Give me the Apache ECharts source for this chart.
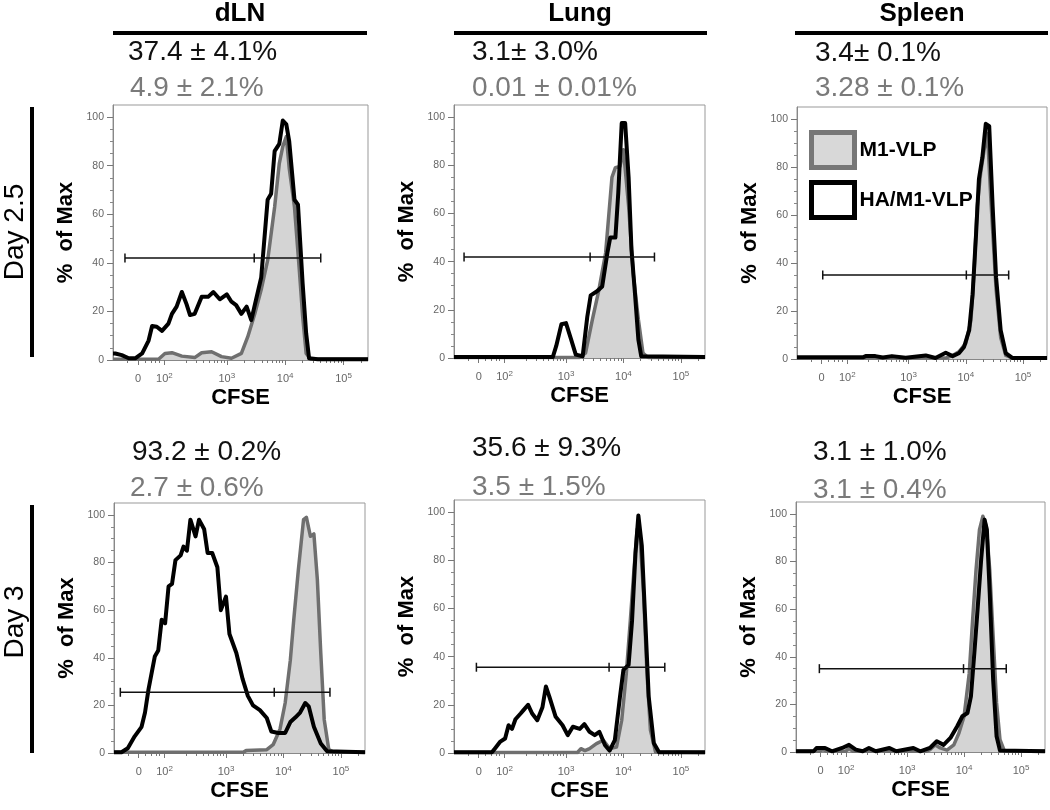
<!DOCTYPE html>
<html>
<head>
<meta charset="utf-8">
<script src="https://cdn.jsdelivr.net/npm/echarts@6/dist/echarts.min.js"></script>
<style>html,body{margin:0;padding:0;background:#fff}#c{width:1050px;height:810px}</style>
</head>
<body>
<div id="c"></div>
<script>
// ---- Data (x = CFSE on the biexponential display scale, in decades; y = % of Max) ----
const xTickPos = [1.48, 1.93, 3, 4, 5];
const xTickLabels = ['0', '10|2', '10|3', '10|4', '10|5'];
const yTickVals = [0, 20, 40, 60, 80, 100];
const columnTitles = ['dLN', 'Lung', 'Spleen'];
const rowTitles = ['Day 2.5', 'Day 3'];
const pctHA = ['37.4 \u00b1 4.1%', '3.1\u00b1 3.0%', '3.4\u00b1 0.1%', '93.2 \u00b1 0.2%', '35.6 \u00b1 9.3%', '3.1 \u00b1 1.0%'];
const pctM1 = ['4.9 \u00b1 2.1%', '0.01 \u00b1 0.01%', '3.28 \u00b1 0.1%', '2.7 \u00b1 0.6%', '3.5 \u00b1 1.5%', '3.1 \u00b1 0.4%'];

const dLN_d25_HA = [[1.05,2.7],[1.09,2.7],[1.20,2],[1.32,0.7],[1.43,0.7],[1.55,2.7],[1.66,8],[1.72,14],[1.80,13.7],[1.89,12],[2.0,15],[2.06,19],[2.14,22],[2.23,28],[2.31,23],[2.37,18.5],[2.45,19],[2.57,26],[2.68,26],[2.77,28],[2.88,25],[3.0,27],[3.08,24],[3.16,22.6],[3.25,19],[3.34,22],[3.42,16.4],[3.5,24.7],[3.59,34],[3.70,66],[3.76,68.5],[3.82,86],[3.90,89],[3.96,98.6],[4.02,97],[4.07,90],[4.16,66],[4.22,64],[4.30,31.5],[4.36,11],[4.41,0.7],[4.56,0.3],[5.42,0.3]];
const dLN_d25_M1 = [[1.05,0.3],[1.83,0.3],[1.94,2.7],[2.06,3],[2.23,1.6],[2.45,1],[2.57,3],[2.74,3.4],[2.91,1.4],[3.08,0.7],[3.25,2.7],[3.36,9.6],[3.48,19],[3.59,29],[3.70,41],[3.82,63],[3.90,81],[3.96,88],[4.02,92],[4.07,79],[4.16,63],[4.24,38],[4.30,18],[4.36,2.7],[4.44,0.3],[5.42,0.3]];
const lung_d25_HA = [[1.05,0.4],[2.77,0.4],[2.83,5],[2.92,14],[3.0,14.5],[3.09,7.6],[3.17,1.4],[3.29,0.7],[3.37,17],[3.43,26],[3.54,27.7],[3.63,29.7],[3.72,43.6],[3.77,50],[3.86,50],[3.91,68.5],[3.97,97.5],[4.03,97.5],[4.09,75],[4.14,45],[4.20,27],[4.26,7.6],[4.31,0.7],[5.42,0.4]];
const lung_d25_M1 = [[1.05,0.2],[3.23,0.2],[3.34,2],[3.46,16],[3.57,28],[3.69,43.6],[3.80,75],[3.86,79],[3.94,79.5],[4.0,86.4],[4.09,63],[4.17,35],[4.26,16],[4.34,2],[4.43,0.2],[5.42,0.2]];
const spl_d25_HA = [[1.05,0.7],[2.20,0.7],[2.25,1.2],[2.42,1.2],[2.55,0.6],[2.71,1.2],[2.95,0.5],[3.30,1.5],[3.47,0.4],[3.65,2.6],[3.77,1.2],[3.88,2.4],[3.97,5],[4.06,12],[4.12,27],[4.18,52],[4.23,75],[4.29,84],[4.35,98],[4.41,97],[4.47,63.5],[4.53,34],[4.61,12],[4.70,2.4],[4.82,0.4],[5.42,0.4]];
const spl_d25_M1 = [[1.05,0.4],[3.65,0.4],[3.77,1.5],[3.88,3],[4.0,6.5],[4.09,16],[4.15,38.5],[4.20,63.5],[4.26,77.5],[4.32,87],[4.38,94],[4.44,66],[4.53,29],[4.61,9],[4.70,1.5],[4.82,0.4],[5.42,0.4]];
const dLN_d3_HA = [[1.05,0.3],[1.18,0.3],[1.29,2],[1.41,7],[1.53,11],[1.59,17],[1.65,26.6],[1.76,40.5],[1.82,43],[1.88,56],[1.94,54.5],[2.0,70],[2.06,71],[2.12,81],[2.21,83],[2.26,86.7],[2.32,85],[2.38,98],[2.47,91],[2.53,98],[2.62,94],[2.68,84],[2.76,84],[2.85,78],[2.91,60],[3.0,65.7],[3.06,50],[3.18,42],[3.29,31],[3.38,24],[3.47,20],[3.59,18],[3.71,14.7],[3.79,9],[3.91,8.4],[4.03,8.4],[4.12,13],[4.21,15],[4.29,17],[4.38,21],[4.44,19.6],[4.53,11],[4.65,4],[4.76,0.7],[5.42,0.3]];
const dLN_d3_M1 = [[1.05,0.3],[3.30,0.3],[3.35,1],[3.71,1.4],[3.82,3.5],[3.94,10],[4.03,21],[4.12,39],[4.18,56],[4.26,77],[4.35,98],[4.40,99],[4.47,91],[4.53,92],[4.59,73],[4.65,42],[4.71,14],[4.79,1.4],[4.88,0.3],[5.42,0.3]];
const lung_d3_HA = [[1.05,0.3],[1.71,0.3],[1.76,1.8],[1.85,4.6],[1.94,6],[2.0,11.5],[2.06,10],[2.12,14],[2.21,16.4],[2.26,17.8],[2.34,20],[2.41,16.4],[2.50,13.6],[2.59,19],[2.65,27.6],[2.71,23.4],[2.82,15],[2.94,11.5],[3.03,7.4],[3.12,10.9],[3.24,10],[3.32,12],[3.41,8.8],[3.50,7.4],[3.58,8.8],[3.68,3.2],[3.76,1],[3.85,5.3],[3.94,23.4],[4.0,34.5],[4.09,36.6],[4.15,55],[4.21,83],[4.26,98.6],[4.32,86],[4.38,55],[4.44,23.4],[4.53,4],[4.62,0.3],[5.42,0.3]];
const lung_d3_M1 = [[1.05,0.2],[3.20,0.2],[3.26,1.8],[3.33,1],[3.41,1.8],[3.53,3.9],[3.65,5.3],[3.76,1.8],[3.88,2.5],[3.97,13.6],[4.05,33],[4.12,55],[4.18,75],[4.24,93],[4.29,89],[4.35,66.6],[4.41,33],[4.47,9.5],[4.56,0.4],[5.42,0.2]];
const spl_d3_HA = [[1.05,0.3],[1.36,0.3],[1.41,1.7],[1.56,1.7],[1.68,0.3],[1.86,1.7],[1.98,3],[2.10,1],[2.22,0.3],[2.33,1.7],[2.45,0.3],[2.69,1.7],[2.81,0.3],[3.11,1.7],[3.23,0.3],[3.40,1.7],[3.52,4.5],[3.64,3],[3.76,5.9],[3.88,10.8],[3.97,15],[4.06,16.4],[4.12,23.4],[4.18,41.6],[4.24,61],[4.30,81],[4.36,97.6],[4.40,93.4],[4.45,66.8],[4.51,30.4],[4.57,6.6],[4.63,0.6],[5.42,0.3]];
const spl_d3_M1 = [[1.05,0.3],[1.45,0.3],[1.52,1],[1.60,0.3],[1.92,0.3],[1.98,1.5],[2.05,0.3],[3.34,0.3],[3.40,1],[3.49,3],[3.58,1.7],[3.70,0.8],[3.82,3],[3.91,8],[4.0,15],[4.09,33],[4.15,55.6],[4.21,76.6],[4.27,93.4],[4.33,99],[4.39,94.8],[4.45,76.6],[4.51,48.6],[4.57,20.6],[4.63,5.2],[4.71,0.3],[5.42,0.3]];

const gate_dLN_d25 = [[1.255,42],[3.47,42],[4.61,42]];
const gate_lung_d25 = [[1.225,41.9],[3.42,41.9],[4.54,41.9]];
const gate_spl_d25 = [[1.50,35],[4.01,35],[4.75,35]];
const gate_dLN_d3 = [[1.16,25.5],[3.84,25.5],[4.81,25.5]];
const gate_lung_d3 = [[1.44,35.6],[3.75,35.6],[4.72,35.6]];
const gate_spl_d3 = [[1.46,35],[3.99,35],[4.74,35]];

const seriesM1 = [dLN_d25_M1, lung_d25_M1, spl_d25_M1, dLN_d3_M1, lung_d3_M1, spl_d3_M1];
const seriesHA = [dLN_d25_HA, lung_d25_HA, spl_d25_HA, dLN_d3_HA, lung_d3_HA, spl_d3_HA];
const gates = [gate_dLN_d25, gate_lung_d25, gate_spl_d25, gate_dLN_d3, gate_lung_d3, gate_spl_d3];

// ---- Layout ----
const FONT = 'Arial, "Liberation Sans", sans-serif';
const grids = [
  {left:113, top:105, width:255, height:255},
  {left:454, top:105, width:251, height:253},
  {left:797, top:107, width:250, height:252},
  {left:114, top:503, width:251, height:250},
  {left:454, top:500, width:251, height:253},
  {left:796, top:502, width:249, height:250}
];
const XMIN = 1.05, XMAX = 5.42;
const minorX = [];
for (let n = 1; n <= 5; n++) for (let k = 2; k <= 9; k++) {
  const v = n + Math.log10(k);
  if (v > XMIN && v < XMAX && Math.abs(v - 1.48) > 0.04 && Math.abs(v - 1.93) > 0.04) minorX.push(v);
}
const minorY = [];
for (let v = 5; v < 105; v += 5) if (v % 20 !== 0) minorY.push(v);

function xFmt(v) {
  let idx = 0, best = 1e9;
  xTickPos.forEach((p, i) => { const d = Math.abs(p - v); if (d < best) { best = d; idx = i; } });
  const lab = xTickLabels[idx];
  if (lab.indexOf('|') < 0) return '{b|' + lab + '}';
  const parts = lab.split('|');
  return '{b|' + parts[0] + '}{s|' + parts[1] + '}';
}

const xAxis = [], yAxis = [], series = [];
grids.forEach((g, i) => {
  xAxis.push({
    type:'value', gridIndex:i, min:XMIN, max:XMAX, position:'bottom',
    axisLine:{show:true, lineStyle:{color:'#888', width:1}},
    splitLine:{show:false},
    axisTick:{show:true, customValues:xTickPos, length:5, lineStyle:{color:'#777'}},
    axisLabel:{customValues:xTickPos, formatter:xFmt, margin:12, color:'#666',
      rich:{b:{fontSize:11, color:'#666', fontFamily:FONT, lineHeight:14},
            s:{fontSize:8, color:'#666', fontFamily:FONT, verticalAlign:'top', lineHeight:8}}},
    name:'CFSE', nameLocation:'middle', nameGap:27,
    nameTextStyle:{fontWeight:'bold', fontSize:22, color:'#000', fontFamily:FONT}
  });
  xAxis.push({
    type:'value', gridIndex:i, min:XMIN, max:XMAX, position:'bottom',
    axisLine:{show:false}, splitLine:{show:false}, axisLabel:{show:false},
    axisTick:{show:true, customValues:minorX, length:3, lineStyle:{color:'#777'}}
  });
  yAxis.push({
    type:'value', gridIndex:i, min:0, max:105, position:'left',
    axisLine:{show:true, lineStyle:{color:'#888', width:1}},
    splitLine:{show:false},
    axisTick:{show:true, customValues:yTickVals, length:6, lineStyle:{color:'#777'}},
    axisLabel:{customValues:yTickVals, margin:9, color:'#666', fontSize:10.5, fontFamily:FONT},
    name:'%  of Max', nameLocation:'middle', nameGap:36,
    nameTextStyle:{fontWeight:'bold', fontSize:22, color:'#000', fontFamily:FONT}
  });
  yAxis.push({
    type:'value', gridIndex:i, min:0, max:105, position:'left',
    axisLine:{show:false}, splitLine:{show:false}, axisLabel:{show:false},
    axisTick:{show:true, customValues:minorY, length:3, lineStyle:{color:'#888'}}
  });
  series.push({
    type:'line', name:'M1-VLP', xAxisIndex:2*i, yAxisIndex:2*i, data:seriesM1[i],
    symbol:'none', showSymbol:false, silent:true, z:2,
    lineStyle:{color:'#6f6f6f', width:3.5, join:'round'},
    itemStyle:{color:'#6f6f6f'},
    areaStyle:{color:'#d4d4d4', opacity:1}
  });
  series.push({
    type:'line', name:'HA/M1-VLP', xAxisIndex:2*i, yAxisIndex:2*i, data:seriesHA[i],
    symbol:'none', showSymbol:false, silent:true, z:3,
    lineStyle:{color:'#000', width:4, join:'round'},
    itemStyle:{color:'#000'}
  });
  series.push({
    type:'line', name:'gate', xAxisIndex:2*i, yAxisIndex:2*i, data:gates[i],
    symbol:'rect', symbolSize:[1.5, 9], showSymbol:true, silent:true, z:4,
    lineStyle:{color:'#111', width:1.5}, itemStyle:{color:'#111'}
  });
});

const graphic = [];
const colCenters = [240, 580, 922];
const colLines = [[113, 367], [454, 707], [795, 1048]];
columnTitles.forEach((t, i) => {
  graphic.push({type:'text', x:colCenters[i], y:14, style:{text:t, font:'bold 26px ' + FONT, fill:'#000', align:'center', verticalAlign:'middle'}});
  graphic.push({type:'line', shape:{x1:colLines[i][0], y1:33, x2:colLines[i][1], y2:33}, style:{stroke:'#000', lineWidth:4}});
});
const pctPos = [
  [128, 52, 130, 88], [472, 52, 472, 88], [815, 53, 815, 88],
  [132, 452, 130, 488], [472, 448, 472, 487], [813, 452, 813, 490]
];
pctPos.forEach((p, i) => {
  graphic.push({type:'text', x:p[0], y:p[1], style:{text:pctHA[i], font:'28px ' + FONT, fill:'#111', align:'left', verticalAlign:'middle'}});
  graphic.push({type:'text', x:p[2], y:p[3], style:{text:pctM1[i], font:'28px ' + FONT, fill:'#7a7a7a', align:'left', verticalAlign:'middle'}});
});
const rowCenters = [232, 622];
const rowBars = [[107, 357], [505, 753]];
rowTitles.forEach((t, i) => {
  graphic.push({type:'text', x:15, y:rowCenters[i], rotation:Math.PI/2, style:{text:t, font:'28px ' + FONT, fill:'#000', align:'center', verticalAlign:'middle'}});
  graphic.push({type:'line', shape:{x1:32, y1:rowBars[i][0], x2:32, y2:rowBars[i][1]}, style:{stroke:'#000', lineWidth:4}});
});

const option = {
  animation:false,
  backgroundColor:'#fff',
  grid: grids.map(g => Object.assign({show:true, borderColor:'#999', borderWidth:1, backgroundColor:'transparent'}, g)),
  xAxis, yAxis, series, graphic,
  legend:{
    show:true, orient:'vertical', left:804, top:125, itemWidth:43, itemHeight:35, itemGap:10,
    selectedMode:false,
    textStyle:{fontWeight:'bold', fontSize:21, color:'#000', fontFamily:FONT},
    data:[
      {name:'M1-VLP', icon:'rect', itemStyle:{color:'#d8d8d8', borderColor:'#777', borderWidth:5}},
      {name:'HA/M1-VLP', icon:'rect', itemStyle:{color:'#fff', borderColor:'#000', borderWidth:5}}
    ]
  }
};
const chart = echarts.init(document.getElementById('c'), null, {renderer:'canvas'});
chart.setOption(option);
</script>
</body>
</html>
